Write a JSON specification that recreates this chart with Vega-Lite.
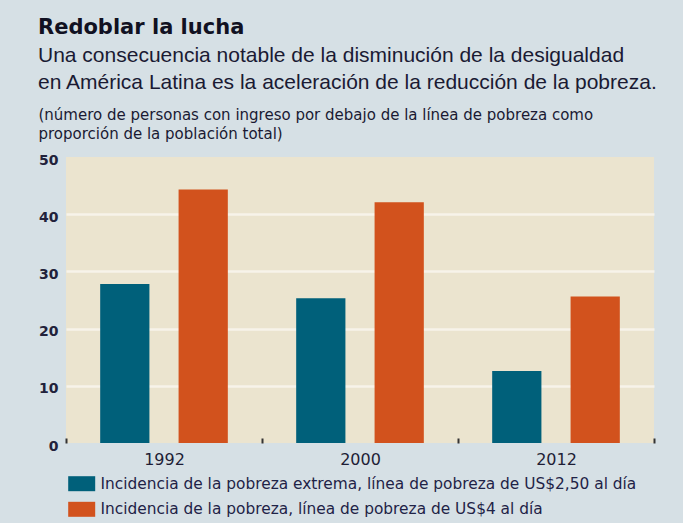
{
  "$schema": "https://vega.github.io/schema/vega-lite/v6.json",
  "autosize": "none",
  "width": 588,
  "height": 286,
  "padding": {"left": 66, "top": 157, "right": 29, "bottom": 80},
  "background": "#d6e0e5",
  "config": {
    "view": {"fill": "#ebe4cf", "stroke": null},
    "font": "DejaVu Sans"
  },
  "title": {
    "text": "Redoblar la lucha",
    "subtitle": ["Una consecuencia notable de la disminución de la desigualdad", "en América Latina es la aceleración de la reducción de la pobreza."],
    "anchor": "start",
    "frame": "group",
    "dx": -28,
    "fontSize": 21,
    "fontWeight": "bold",
    "color": "#111122",
    "subtitleFont": "Liberation Sans",
    "subtitleFontSize": 21,
    "subtitleColor": "#1a1a33",
    "subtitleLineHeight": 27,
    "subtitlePadding": 7,
    "offset": 14
  },
  "data": {
    "values": [
      {"year": "1992", "series": "Incidencia de la pobreza extrema, línea de pobreza de US$2,50 al día", "value": 27.8},
      {"year": "1992", "series": "Incidencia de la pobreza, línea de pobreza de US$4 al día", "value": 44.3},
      {"year": "2000", "series": "Incidencia de la pobreza extrema, línea de pobreza de US$2,50 al día", "value": 25.3},
      {"year": "2000", "series": "Incidencia de la pobreza, línea de pobreza de US$4 al día", "value": 42.1},
      {"year": "2012", "series": "Incidencia de la pobreza extrema, línea de pobreza de US$2,50 al día", "value": 12.6},
      {"year": "2012", "series": "Incidencia de la pobreza, línea de pobreza de US$4 al día", "value": 25.6}
    ]
  },
  "mark": {"type": "bar"},
  "encoding": {
    "x": {
      "field": "year",
      "type": "nominal",
      "scale": {"paddingInner": 0, "paddingOuter": 0},
      "axis": {
        "title": null,
        "labelAngle": 0,
        "labelFontSize": 16,
        "labelColor": "#1e1e36",
        "labelPadding": 13,
        "domain": false,
        "tickBand": "extent",
        "tickSize": -5,
        "tickWidth": 2,
        "tickColor": "#333333"
      }
    },
    "xOffset": {
      "field": "series",
      "type": "nominal",
      "scale": {"paddingInner": 0.372, "paddingOuter": 0.436}
    },
    "y": {
      "field": "value",
      "type": "quantitative",
      "scale": {"domain": [0, 50], "nice": false},
      "axis": {
        "values": [0, 10, 20, 30, 40, 50],
        "title": ["(número de personas con ingreso por debajo de la línea de pobreza como", "proporción de la población total)"],
        "titleAngle": 0,
        "titleAlign": "left",
        "titleBaseline": "alphabetic",
        "titleX": -28,
        "titleY": -38,
        "titleFontSize": 15,
        "titleFontWeight": "normal",
        "titleColor": "#1a1a33",
        "titleLineHeight": 19,
        "labelFontSize": 14,
        "labelFontWeight": "bold",
        "labelColor": "#22223b",
        "labelPadding": 8,
        "labelOffset": 3,
        "domain": false,
        "ticks": false,
        "grid": true,
        "gridColor": "#f7f3ea",
        "gridWidth": 2.5,
        "gridOpacity": {"condition": {"test": "datum.value == 0 || datum.value == 50", "value": 0}, "value": 1}
      }
    },
    "color": {
      "field": "series",
      "type": "nominal",
      "scale": {"range": ["#00607a", "#d2521d"]},
      "legend": {
        "title": null,
        "orient": "none",
        "legendX": 8,
        "legendY": 319,
        "direction": "vertical",
        "padding": 0,
        "symbolType": "M-1.8,-1H1.8V1H-1.8Z",
        "symbolSize": 225,
        "symbolStrokeWidth": 0,
        "symbolOpacity": 1,
        "labelFontSize": 15.4,
        "labelColor": "#1f2347",
        "labelOffset": 11,
        "labelLimit": 0,
        "rowPadding": 8.6
      }
    }
  }
}
